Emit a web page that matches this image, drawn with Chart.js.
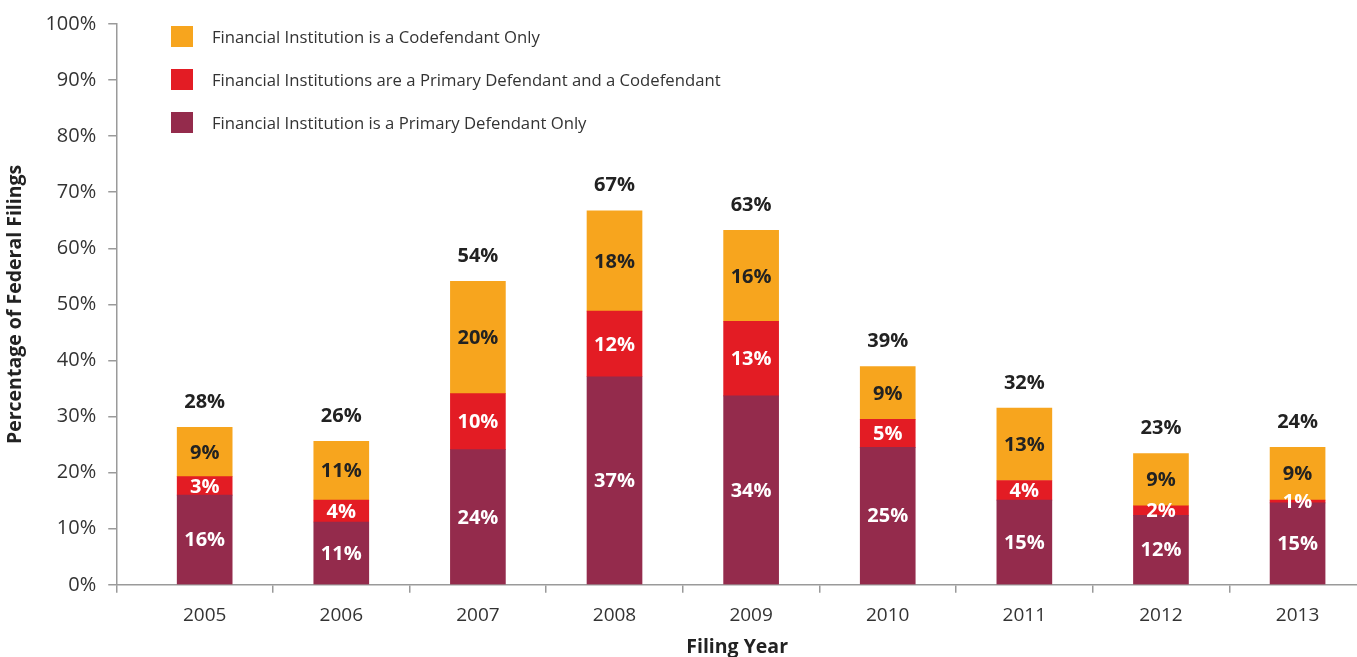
<!DOCTYPE html>
<html>
<head>
<meta charset="utf-8">
<script src="https://cdn.jsdelivr.net/npm/chart.js@4"></script>
<style>
  html, body { margin: 0; padding: 0; background: #fff; }
  #wrap { position: relative; width: 1357px; height: 657px; }
  #legend { position: absolute; left: 171px; top: 26px; font-family: "Open Sans", sans-serif; font-size: 16.7px; color: #333; }
  .item { display: flex; align-items: center; height: 21px; margin-bottom: 22px; }
  .box { width: 22px; height: 21px; margin-right: 19px; }
</style>
</head>
<body>
<div id="wrap">
  <canvas id="chart" width="1357" height="657"></canvas>
  <div id="legend"></div>
</div>
<script>
const years = ["2005", "2006", "2007", "2008", "2009", "2010", "2011", "2012", "2013"];

// bar heights
const primaryOnly = [16.0, 11.2, 24.1, 37.1, 33.7, 24.5, 15.1, 12.4, 14.6];
const primaryAndCo = [3.3, 3.9, 10.0, 11.7, 13.3, 5.0, 3.5, 1.7, 0.5];
const codefOnly = [8.8, 10.5, 20.0, 17.9, 16.2, 9.4, 12.9, 9.3, 9.4];

// printed labels
const primaryOnlyText = [16, 11, 24, 37, 34, 25, 15, 12, 15];
const primaryAndCoText = [3, 4, 10, 12, 13, 5, 4, 2, 1];
const codefOnlyText = [9, 11, 20, 18, 16, 9, 13, 9, 9];
const totalText = [28, 26, 54, 67, 63, 39, 32, 23, 24];

const yTicks = [0, 10, 20, 30, 40, 50, 60, 70, 80, 90, 100];

const X_MIN = -0.64, X_MAX = 8.435;
const FONT = "'Open Sans', sans-serif";

const series = [
  { label: "Financial Institution is a Primary Defendant Only", values: primaryOnly, text: primaryOnlyText, color: "#942B4C", ink: "#fff" },
  { label: "Financial Institutions are a Primary Defendant and a Codefendant", values: primaryAndCo, text: primaryAndCoText, color: "#E31C24", ink: "#fff" },
  { label: "Financial Institution is a Codefendant Only", values: codefOnly, text: codefOnlyText, color: "#F7A51E", ink: "#222" }
];

const barLabels = {
  id: "barLabels",
  afterDatasetsDraw(chart) {
    const ctx = chart.ctx;
    ctx.save();
    ctx.textAlign = "center";
    ctx.textBaseline = "middle";
    ctx.font = "bold 20px " + FONT;
    chart.data.datasets.forEach((ds, di) => {
      const meta = chart.getDatasetMeta(di);
      meta.data.forEach((bar, i) => {
        ctx.fillStyle = series[di].ink;
        ctx.fillText(series[di].text[i] + "%", bar.x, (bar.y + bar.base) / 2 + 1);
      });
    });
    const top = chart.getDatasetMeta(chart.data.datasets.length - 1);
    ctx.fillStyle = "#222";
    top.data.forEach((bar, i) => {
      ctx.fillText(totalText[i] + "%", bar.x, bar.y - 25);
    });
    ctx.restore();
  }
};

new Chart(document.getElementById("chart"), {
  type: "bar",
  data: {
    datasets: series.map(s => ({
      label: s.label,
      data: s.values.map((v, i) => ({ x: i, y: v })),
      backgroundColor: s.color,
      barThickness: 55
    }))
  },
  options: {
    responsive: false,
    animation: false,
    layout: { padding: { top: 8, right: 0, left: 4, bottom: -2 } },
    plugins: { legend: { display: false }, tooltip: { enabled: false } },
    scales: {
      x: {
        type: "linear",
        stacked: true,
        offset: false,
        min: X_MIN,
        max: X_MAX,
        position: "bottom",
        afterBuildTicks: axis => {
          axis.ticks = [{ value: X_MIN }].concat(years.slice(1).map((y, i) => ({ value: i + 0.5 })));
        },
        ticks: { display: false },
        grid: { offset: false, drawOnChartArea: false, tickLength: 8, color: "#9a9a9a", lineWidth: 1.5 },
        border: { color: "#9a9a9a", width: 1.5 }
      },
      xLabels: {
        type: "linear",
        offset: false,
        min: X_MIN,
        max: X_MAX,
        position: "bottom",
        afterBuildTicks: axis => {
          axis.ticks = years.map((y, i) => ({ value: i }));
        },
        ticks: {
          color: "#333",
          font: { family: FONT, size: 19 },
          padding: 3,
          callback: v => years[v]
        },
        grid: { display: false, offset: false },
        border: { display: false },
        title: {
          display: true,
          text: "Filing Year",
          color: "#222",
          font: { family: FONT, size: 19.5, weight: "bold" },
          padding: { top: 6, bottom: 0 }
        }
      },
      y: {
        stacked: true,
        min: 0,
        max: 100,
        afterBuildTicks: axis => {
          axis.ticks = yTicks.map(v => ({ value: v }));
        },
        ticks: {
          color: "#333",
          font: { family: FONT, size: 20 },
          padding: 12,
          callback: v => v + "%"
        },
        grid: { drawOnChartArea: false, tickLength: 9, color: "#9a9a9a", lineWidth: 1.5 },
        border: { color: "#9a9a9a", width: 1.5 },
        title: {
          display: true,
          text: "Percentage of Federal Filings",
          color: "#222",
          font: { family: FONT, size: 19.5, weight: "bold" },
          padding: { top: 0, bottom: 6 }
        }
      }
    }
  },
  plugins: [barLabels]
});

const legend = document.getElementById("legend");
series.slice().reverse().forEach(s => {
  const row = document.createElement("div");
  row.className = "item";
  row.innerHTML = '<span class="box" style="background:' + s.color + '"></span><span>' + s.label + "</span>";
  legend.appendChild(row);
});
</script>
</body>
</html>
